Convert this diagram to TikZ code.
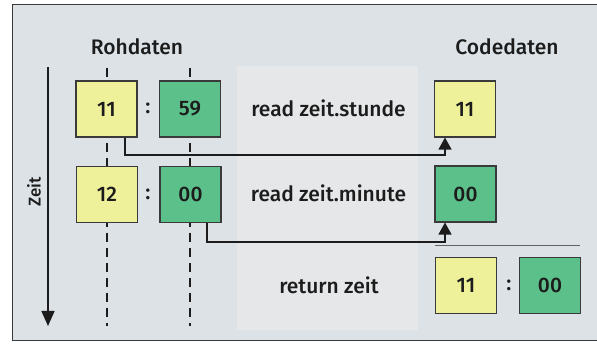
\documentclass[tikz,border=0pt]{standalone}
\usepackage{fontspec}
\setmainfont{Fira Sans Medium}
\usetikzlibrary{arrows.meta}
\definecolor{bgc}{HTML}{DCE2E5}
\definecolor{panelc}{HTML}{E6E7E8}
\definecolor{hourc}{HTML}{EEF09A}
\definecolor{minc}{HTML}{5CC08A}
\definecolor{inkc}{HTML}{1C1C1C}
\definecolor{framec}{HTML}{3A3A3A}
\newcommand{\bigtext}{\fontsize{21}{24}\selectfont}
\tikzset{
  cell/.style={draw=framec, line width=1.1pt, minimum width=61pt, minimum height=56pt,
    inner sep=0pt, text=inkc, font=\bigtext},
  hourbox/.style={cell, fill=hourc},
  minbox/.style={cell, fill=minc},
  sep/.style={text=inkc, font=\bigtext},
  lbl/.style={text=inkc, font=\bigtext},
  lifeline/.style={draw=inkc, line width=1.4pt, dash pattern=on 9pt off 6pt},
  flow/.style={draw=inkc, line width=1.3pt, -{Triangle[length=12pt,width=13pt]}},
}
\begin{document}
\begin{tikzpicture}[x=1pt, y=-1pt]
  \useasboundingbox (0,0) rectangle (597,344);
  % page and frame
  \fill[white] (0,0) rectangle (597,344);
  \fill[bgc] (12,5) rectangle (597,341);
  \fill[panelc] (237,66) rectangle (418,330);
  \draw[framec, line width=1pt] (598,5) -- (12,5) -- (12,341) -- (598,341);

  % column headings and time axis
  \node[lbl] (raw) at (137,47) {Rohdaten};
  \node[lbl] (code) at (507,47) {Codedaten};
  \coordinate (tstart) at (48,67);
  \coordinate (tend) at (48,326);
  \draw[inkc, line width=1.5pt, -{Triangle[length=15pt,width=13pt]}] (tstart) -- (tend);
  \node[lbl, rotate=90, font=\fontsize{17}{19}\selectfont] (zeit) at (34,192) {Zeit};

  % lifelines of the raw data
  \coordinate (hl1) at (107,68);
  \coordinate (hl2) at (107,326);
  \coordinate (ml1) at (190,68);
  \coordinate (ml2) at (190,326);
  \draw[lifeline] (hl1) -- (hl2);
  \draw[lifeline] (ml1) -- (ml2);

  % raw data boxes
  \node[hourbox] (h1) at (106.5,109) {11};
  \node[sep] (s1) at (148,108) {:};
  \node[minbox] (m1) at (190,109) {59};
  \node[hourbox] (h2) at (107,194.5) {12};
  \node[sep] (s2) at (148,194) {:};
  \node[minbox] (m2) at (190.5,194.5) {00};

  % operations
  \node[lbl] (op1) at (328.5,108) {read zeit.stunde};
  \node[lbl] (op2) at (328.5,193) {read zeit.minute};
  \node[lbl] (op3) at (329,285) {return zeit};

  % coded data boxes
  \node[hourbox] (c1) at (465,109) {11};
  \node[minbox] (c2) at (465.5,194) {00};
  \node[hourbox] (r1) at (466,285.5) {11};
  \node[sep] (s3) at (509,285) {:};
  \node[minbox] (r2) at (550,285.5) {00};

  % data flow
  \coordinate (h1out) at ([xshift=18.5pt]h1.south);
  \coordinate (c1in) at ([xshift=-20pt]c1.south);
  \coordinate (bend1) at (0,155);
  \draw[flow] (h1out) -- (h1out |- bend1) -| (c1in);
  \coordinate (m2out) at ([xshift=16.5pt]m2.south);
  \coordinate (c2in) at ([xshift=-20.5pt]c2.south);
  \coordinate (bend2) at (0,242);
  \draw[flow] (m2out) -- (m2out |- bend2) -| (c2in);

  % separator above the result
  \coordinate (sl1) at (435,245);
  \coordinate (sl2) at (580,245);
  \draw[framec!80, line width=0.8pt] (sl1) -- (sl2);
\end{tikzpicture}
\end{document}
